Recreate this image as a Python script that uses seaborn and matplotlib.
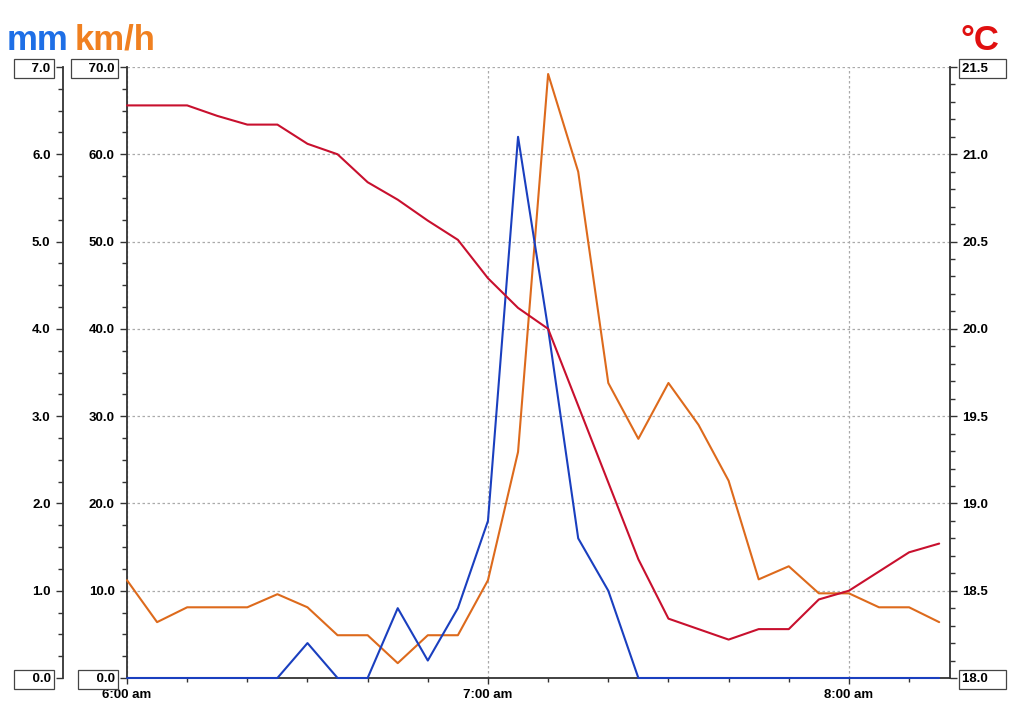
import matplotlib
matplotlib.use("Agg")
import matplotlib.pyplot as plt
import matplotlib.dates as mdates
import matplotlib.ticker as mticker
import seaborn as sns
import pandas as pd

# ---------------- data ----------------
times = ["06:00", "06:05", "06:10", "06:15", "06:20", "06:25", "06:30",
         "06:35", "06:40", "06:45", "06:50", "06:55", "07:00", "07:05",
         "07:10", "07:15", "07:20", "07:25", "07:30", "07:35", "07:40",
         "07:45", "07:50", "07:55", "08:00", "08:05", "08:10", "08:15"]
rain_mm = [0.0, 0.0, 0.0, 0.0, 0.0, 0.0, 0.4, 0.0, 0.0, 0.8, 0.2, 0.8,
           1.8, 6.2, 4.0, 1.6, 1.0, 0.0, 0.0, 0.0, 0.0, 0.0, 0.0, 0.0,
           0.0, 0.0, 0.0, 0.0]
wind_kmh = [11.2, 6.4, 8.1, 8.1, 8.1, 9.6, 8.1, 4.9, 4.9, 1.7, 4.9, 4.9,
            11.2, 25.9, 69.2, 58.0, 33.8, 27.4, 33.8, 29.0, 22.6, 11.3,
            12.8, 9.7, 9.7, 8.1, 8.1, 6.4]
temp_c = [21.28, 21.28, 21.28, 21.22, 21.17, 21.17, 21.06, 21.0, 20.84,
          20.74, 20.62, 20.51, 20.29, 20.12, 20.0, 19.56, 19.12, 18.68,
          18.34, 18.28, 18.22, 18.28, 18.28, 18.45, 18.5, 18.61, 18.72, 18.77]

x_tick_times = ["06:00", "07:00", "08:00"]
x_tick_labels = ["6:00 am", "7:00 am", "8:00 am"]
x_limits = ["06:00:00", "08:16:48"]
day = "2024-01-01 "

rain_range = (0.0, 7.0)
wind_range = (0.0, 70.0)
temp_range = (18.0, 21.5)
boxed_rain = [0.0, 7.0]
boxed_wind = [0.0, 70.0]
boxed_temp = [18.0, 21.5]

# ---------------- style ----------------
sns.set_style("ticks")
plt.rcParams["font.family"] = ["Liberation Sans", "DejaVu Sans"]
plt.rcParams["font.weight"] = "bold"
plt.rcParams["xtick.labelcolor"] = "black"
plt.rcParams["ytick.labelcolor"] = "black"
plt.rcParams["text.color"] = "black"

C_RAIN = "#1a3fbf"
C_WIND = "#dd6a1c"
C_TEMP = "#c8102e"
C_RAIN_T = "#1e6fe6"
C_WIND_T = "#f08020"
C_TEMP_T = "#e01010"
SPINE = "#333333"

df = pd.DataFrame({
    "time": pd.to_datetime([day + t for t in times]),
    "rain": rain_mm,
    "wind": wind_kmh,
    "temp": temp_c,
})

fig = plt.figure(figsize=(10.17, 7.2), dpi=100)
ax = fig.add_axes([127 / 1017, 42 / 720, 823 / 1017, 611 / 720])
ax_mm = ax.twinx()
ax_t = ax.twinx()

sns.lineplot(data=df, x="time", y="wind", ax=ax, color=C_WIND, lw=1.5,
             clip_on=False, zorder=5)
sns.lineplot(data=df, x="time", y="rain", ax=ax_mm, color=C_RAIN, lw=1.5,
             clip_on=False, zorder=5)
sns.lineplot(data=df, x="time", y="temp", ax=ax_t, color=C_TEMP, lw=1.5,
             clip_on=False, zorder=5)

for a in (ax, ax_mm, ax_t):
    a.set_xlabel("")
    a.set_ylabel("")
    for s in a.spines.values():
        s.set_visible(False)
        s.set_color(SPINE)
        s.set_linewidth(1.3)

# x axis
ax.set_xlim(pd.Timestamp(day + x_limits[0]), pd.Timestamp(day + x_limits[1]))
ax.xaxis.set_major_locator(mticker.FixedLocator(
    mdates.date2num(pd.to_datetime([day + t for t in x_tick_times]))))
ax.xaxis.set_major_formatter(mticker.FixedFormatter(x_tick_labels))
ax.xaxis.set_minor_locator(mdates.MinuteLocator(byminute=range(0, 60, 10)))
ax.spines["bottom"].set_visible(True)
ax.spines["left"].set_visible(True)
ax.tick_params(axis="x", which="major", length=4, width=1.0, color=SPINE,
               labelsize=9.5, pad=4, direction="out", labelcolor="black")
ax.tick_params(axis="x", which="minor", length=3, width=1.0, color=SPINE,
               direction="out")

# wind axis (inner left)
ax.set_ylim(*wind_range)
ax.yaxis.set_major_locator(mticker.MultipleLocator(10))
ax.yaxis.set_minor_locator(mticker.MultipleLocator(2.5))


def make_fmt(boxed, left=True):
    def f(v, pos):
        s = f"{v:.1f}"
        if any(abs(v - b) < 1e-9 for b in boxed):
            return ("    " + s) if left else (s + "    ")
        return s
    return mticker.FuncFormatter(f)


ax.yaxis.set_major_formatter(make_fmt(boxed_wind))
ax.tick_params(axis="y", which="major", length=5, width=1.0, color=SPINE,
               labelsize=9.5, pad=4, labelcolor="black")
ax.tick_params(axis="y", which="minor", length=3.5, width=1.0, color=SPINE)

# rain axis (outer left)
ax_mm.set_ylim(*rain_range)
ax_mm.yaxis.set_ticks_position("left")
ax_mm.yaxis.set_label_position("left")
ax_mm.spines["left"].set_visible(True)
ax_mm.spines["left"].set_position(("axes", -64 / 823))
ax_mm.yaxis.set_major_locator(mticker.MultipleLocator(1))
ax_mm.yaxis.set_minor_locator(mticker.MultipleLocator(0.25))
ax_mm.yaxis.set_major_formatter(make_fmt(boxed_rain))
ax_mm.tick_params(axis="y", which="major", length=5, width=1.0, color=SPINE,
                  labelsize=9.5, pad=4, left=True, labelleft=True,
                  right=False, labelright=False, labelcolor="black")
ax_mm.tick_params(axis="y", which="minor", length=3.5, width=1.0, color=SPINE,
                  left=True, right=False)

# temperature axis (right)
ax_t.set_ylim(*temp_range)
ax_t.spines["right"].set_visible(True)
ax_t.yaxis.set_major_locator(mticker.MultipleLocator(0.5))
ax_t.yaxis.set_minor_locator(mticker.MultipleLocator(0.1))
ax_t.yaxis.set_major_formatter(make_fmt(boxed_temp, left=False))
ax_t.tick_params(axis="y", which="major", length=5, width=1.0, color=SPINE,
                 labelsize=9.5, pad=4, labelcolor="black")
ax_t.tick_params(axis="y", which="minor", length=3.5, width=1.0, color=SPINE)

# grid
ax.grid(True, which="major", axis="both", color="#aaaaaa",
        linestyle=(0, (2, 2)), linewidth=0.9)

# unit titles
fig.text(7 / 1017, 1 - 50 / 720, "mm", color=C_RAIN_T, fontsize=25,
         fontweight="bold", va="baseline", ha="left")
fig.text(75 / 1017, 1 - 50 / 720, "km/h", color=C_WIND_T, fontsize=25,
         fontweight="bold", va="baseline", ha="left")
fig.text(960 / 1017, 1 - 50 / 720, "°C", color=C_TEMP_T, fontsize=25,
         fontweight="bold", va="baseline", ha="left")

# boxes around end labels
fig.canvas.draw()
for a in (ax, ax_mm, ax_t):
    for lbl in a.yaxis.get_majorticklabels():
        t = lbl.get_text()
        if t and t.strip() != t:
            lbl.set_bbox(dict(boxstyle="square,pad=0.25", facecolor="white",
                              edgecolor="#444444", linewidth=0.9))

fig.savefig("out.png", dpi=100, facecolor="white")
